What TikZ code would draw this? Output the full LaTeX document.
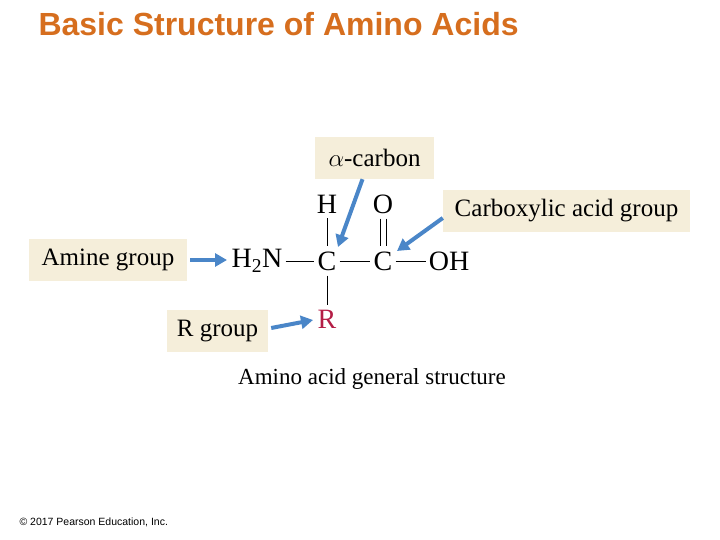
\documentclass[tikz,border=0pt]{standalone}
\usepackage{fontspec}
\setmainfont{Liberation Serif}
\newfontfamily\arial{Liberation Sans}
\usetikzlibrary{arrows.meta}
\definecolor{ttl}{RGB}{214,110,30}
\definecolor{bx}{RGB}{245,238,218}
\definecolor{arr}{RGB}{74,134,200}
\definecolor{rred}{RGB}{180,30,70}
\begin{document}
\begin{tikzpicture}[x=1pt,y=-1pt,
  lbl/.style={fill=bx,inner sep=0pt,font=\fontsize{25}{28}\selectfont},
  atom/.style={inner sep=0pt,font=\fontsize{28}{31}\selectfont},
  bond/.style={line width=1pt},
  pt/.style={draw=arr,line width=4pt,-{Triangle[length=12pt,width=13pt]}}]
\useasboundingbox (0,0) rectangle (720,540);
\node[anchor=west,text=ttl,font=\arial\bfseries\fontsize{32}{36}\selectfont] (title) at (35,24) {Basic Structure of Amino Acids};
\node[lbl,minimum width=119pt,minimum height=42pt] (alpha) at (374.5,158) {$\alpha$-carbon};
\node[lbl,minimum width=247pt,minimum height=42pt] (carb) at (566.5,211) {Carboxylic acid group};
\node[lbl,minimum width=158pt,minimum height=42pt] (amine) at (108,260) {Amine group};
\node[lbl,minimum width=101pt,minimum height=42pt] (rg) at (217.5,331) {R group};
\node[atom] (n) at (257,261) {H\textsubscript{2}N};
\node[atom] (c1) at (327,261) {C};
\node[atom] (c2) at (383,261) {C};
\node[atom] (oh) at (449,261) {OH};
\node[atom] (h) at (327,204) {H};
\node[atom] (o) at (383,204) {O};
\node[atom,text=rred] (r) at (327,319) {R};
\draw[bond] ([xshift=3]n.east) -- ([xshift=-3]c1.west);
\draw[bond] ([xshift=3]c1.east) -- ([xshift=-3]c2.west);
\draw[bond] ([xshift=3]c2.east) -- ([xshift=-3]oh.west);
\draw[bond] ([yshift=-5]h.south) -- ([yshift=5]c1.north);
\draw[bond] ([yshift=-5]c1.south) -- ([yshift=5]r.north);
\draw[bond] ([xshift=-3,yshift=-5]o.south) -- ([xshift=-3,yshift=5]c2.north);
\draw[bond] ([xshift=3,yshift=-5]o.south) -- ([xshift=3,yshift=5]c2.north);
\draw[pt] ([xshift=-12]alpha.south) -- (338,247);
\draw[pt] ([yshift=-7]carb.west) -- (397,251);
\draw[pt] ([xshift=3]amine.east) -- (227,260);
\draw[pt] ([xshift=3,yshift=3]rg.east) -- (313,320);
\node[font=\fontsize{23}{26}\selectfont] (cap) at (372,379) {Amino acid general structure};
\node[anchor=west,font=\arial\fontsize{10.5}{12}\selectfont] (copy) at (16,522) {\textcopyright{} 2017 Pearson Education, Inc.};
\end{tikzpicture}
\end{document}
